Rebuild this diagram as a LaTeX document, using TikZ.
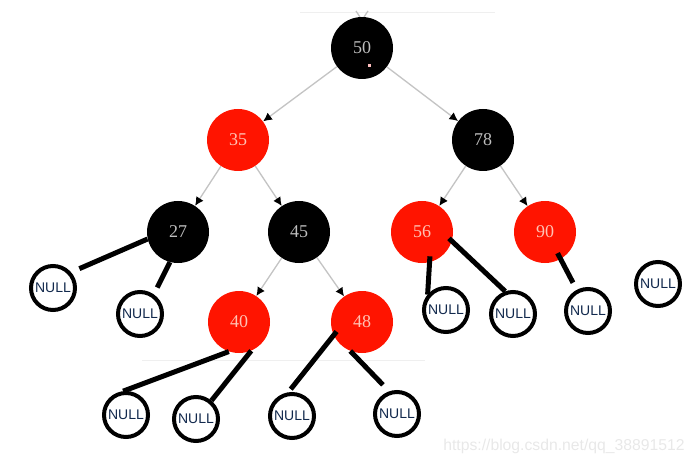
\documentclass[tikz,border=0pt]{standalone}
\usepackage{fontspec}
\setmainfont{Liberation Serif}
\newfontfamily\nilfont{Liberation Sans}
\usetikzlibrary{arrows.meta}
\definecolor{rbred}{HTML}{FF1400}
\definecolor{redtext}{HTML}{FFC2B4}
\definecolor{blacktext}{HTML}{BEBEBE}
\definecolor{niltext}{HTML}{12294D}
\definecolor{edgegrey}{HTML}{C4C4C4}
\definecolor{markgrey}{HTML}{E8E8E8}

\begin{document}
\begin{tikzpicture}[
    x=0.75pt, y=-0.75pt,
    >={Latex[length=6.5pt, width=6.5pt, color=black]},
    % --- node styles ---
    blacknode/.style={
        circle, fill=black, minimum size=46.5pt, inner sep=0pt,
        text=blacktext, font=\fontsize{13.5}{14}\selectfont
    },
    rednode/.style={blacknode, fill=rbred, text=redtext},
    nilnode/.style={
        circle, draw=black, line width=3pt, minimum size=33pt, inner sep=0pt,
        text=niltext, font=\nilfont\fontsize{10.5}{11}\selectfont
    },
    treeedge/.style={->, line width=1pt, color=edgegrey},
    niledge/.style={line width=3.75pt, color=black},
    watermark/.style={text=markgrey, font=\nilfont\fontsize{11.8}{12}\selectfont, inner sep=0pt},
]
\useasboundingbox (0,0) rectangle (695,463);

% ===== BACKGROUND MARKS =====
\draw[markgrey!70, line width=0.75pt] (300,13) -- (495,13);
\draw[markgrey!70, line width=0.75pt] (142,360) -- (425,360);
\draw[edgegrey, line width=1pt] (356,11) -- (360,17) (368,11) -- (364,17);

% ===== TREE =====
\node[blacknode] (n50) at (362,48) {50};
\node[rednode]   (n35) at (238,140) {35};
\node[blacknode] (n78) at (483,140) {78};
\node[blacknode] (n27) at (178,232) {27};
\node[blacknode] (n45) at (299,232) {45};
\node[rednode]   (n56) at (422,232) {56};
\node[rednode]   (n90) at (545,232) {90};
\node[rednode]   (n40) at (239,322) {40};
\node[rednode]   (n48) at (362,322) {48};

\fill[pink] (368,64) rectangle (371,67);

\draw[treeedge] (n50) -- (n35);
\draw[treeedge] (n50) -- (n78);
\draw[treeedge] (n35) -- (n27);
\draw[treeedge] (n35) -- (n45);
\draw[treeedge] (n78) -- (n56);
\draw[treeedge] (n78) -- (n90);
\draw[treeedge] (n45) -- (n40);
\draw[treeedge] (n45) -- (n48);

% ===== NULL LEAVES =====
\node[nilnode] (nil27a) at (53,288)  {NULL};
\node[nilnode] (nil27b) at (140,314) {NULL};
\node[nilnode] (nil56a) at (446,310) {NULL};
\node[nilnode] (nil56b) at (513,314) {NULL};
\node[nilnode] (nil90)  at (588,311) {NULL};
\node[nilnode] (nilx)   at (658,284) {NULL};
\node[nilnode] (nil40a) at (126,415) {NULL};
\node[nilnode] (nil40b) at (196,419) {NULL};
\node[nilnode] (nil48a) at (292,416) {NULL};
\node[nilnode] (nil48b) at (397,414) {NULL};

\draw[niledge, shorten >=6.75pt] (n27.193) -- (nil27a.41);
\draw[niledge, shorten >=5.7pt] (n27.255) -- (nil27b.55);
\draw[niledge, shorten <=-4.5pt] (n56.284) -- (nil56a.140);
\draw[niledge, shorten <=-3pt] (n56.343) -- (nil56b.109);
\draw[niledge, shorten <=-5pt, shorten >=6pt] (n90.300) -- (nil90.118);
\draw[niledge] (n40.251) -- (nil40a.97);
\draw[niledge] (n40.293) -- (nil40b.50);
\draw[niledge, shorten <=-3.5pt, shorten >=3pt] (n48.205) -- (nil48a.99);
\draw[niledge, shorten >=6.75pt] (n48.248) -- (nil48b.109);

% ===== WATERMARK =====
\node[watermark, anchor=base west] (mark) at (443,450) {https://blog.csdn.net/qq\_38891512};

\end{tikzpicture}
\end{document}
